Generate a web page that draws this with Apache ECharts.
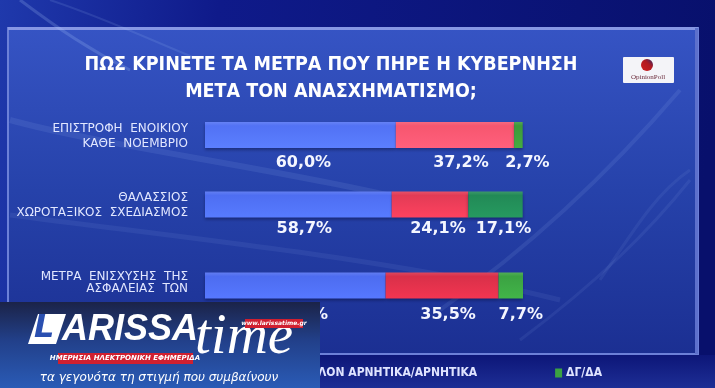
<!DOCTYPE html>
<html><head><meta charset="utf-8">
<script src="https://cdn.jsdelivr.net/npm/echarts@6/dist/echarts.min.js"></script>
<style>html,body{margin:0;padding:0;background:#0a127a}#c{width:715px;height:388px}</style>
</head><body><div id="c"></div>
<script>
// ---- data ----
const categories = [
  'ΕΠΙΣΤΡΟΦΗ  ΕΝΟΙΚΙΟΥ\nΚΑΘΕ  ΝΟΕΜΒΡΙΟ',
  'ΘΑΛΑΣΣΙΟΣ\nΧΩΡΟΤΑΞΙΚΟΣ  ΣΧΕΔΙΑΣΜΟΣ',
  'ΜΕΤΡΑ  ΕΝΙΣΧΥΣΗΣ  ΤΗΣ\nΑΣΦΑΛΕΙΑΣ  ΤΩΝ'
];
const seriesNames = ['ΘΕΤΙΚΑ/ΜΑΛΛΟΝ ΘΕΤΙΚΑ', 'ΜΑΛΛΟΝ ΑΡΝΗΤΙΚΑ/ΑΡΝΗΤΙΚΑ', 'ΔΓ/ΔΑ'];
const positive = [60.0, 58.7, 56.8];
const negative = [37.2, 24.1, 35.5];
const dkna = [2.7, 17.1, 7.7];
const titleLines = ['ΠΩΣ ΚΡΙΝΕΤΕ ΤΑ ΜΕΤΡΑ ΠΟΥ ΠΗΡΕ Η ΚΥΒΕΡΝΗΣΗ', 'ΜΕΤΑ ΤΟΝ ΑΝΑΣΧΗΜΑΤΙΣΜΟ;'];

// ---- layout / style ----
const chart = echarts.init(document.getElementById('c'));
const barCenters = [135, 204.5, 285.5];
const barH = 26;
const colors = [
  ['#5272f4', '#f7566f', '#3d9a3a'],
  ['#4e6ef2', '#e33b55', '#228a56'],
  ['#4d6cf0', '#d93049', '#3ba242']
];
const labelOffsets = [[3, 6, 9], [6, 8, 8], [5, 6, 10]];
const labelDist = [7, 3, 8];
// [top padding of first line, bottom padding of last line]
const catPad = [[5, 0], [3, 0], [0, 10]];
const valuesBySeries = [positive, negative, dkna];
const fmt = v => v.toFixed(1).replace('.', ',') + '%';

function grad(c) {
  return new echarts.graphic.LinearGradient(0, 0, 0, 1, [
    {offset: 0, color: echarts.color.lift(c, 0.12)},
    {offset: 0.15, color: c},
    {offset: 1, color: echarts.color.lift(c, -0.12)}
  ]);
}

const catStyle = {color: '#e2e7ff', fontSize: 12, fontFamily: 'DejaVu Sans', lineHeight: 17, align: 'right'};
const grids = [], xAxes = [], yAxes = [], series = [];
categories.forEach((cat, i) => {
  grids.push({left: 205, width: 318, top: barCenters[i] - barH / 2, height: barH});
  xAxes.push({type: 'value', gridIndex: i, min: 0, max: 100, show: false});
  yAxes.push({type: 'category', gridIndex: i, data: [cat],
    axisLine: {show: false}, axisTick: {show: false}, splitLine: {show: false},
    axisLabel: {margin: 17, align: 'right', ...catStyle,
      formatter: v => {
        const ls = v.split('\n');
        return ls.map((l, k) => '{' + (k === 0 ? 'f' : (k === ls.length - 1 ? 'l' : 'm')) + '|' + l + '}').join('\n');
      },
      rich: {
        f: {...catStyle, padding: [catPad[i][0], 0, 0, 0]},
        m: {...catStyle},
        l: {...catStyle, padding: [0, 0, catPad[i][1], 0]}
      }}});
  seriesNames.forEach((name, s) => {
    series.push({
      type: 'bar', name, stack: 'g' + i, xAxisIndex: i, yAxisIndex: i,
      barWidth: barH, data: [valuesBySeries[s][i]],
      itemStyle: {color: grad(colors[i][s]), shadowColor: 'rgba(0,0,30,0.35)', shadowBlur: 3, shadowOffsetY: 2},
      label: {show: true, position: 'bottom', distance: labelDist[i], offset: [labelOffsets[i][s], 0],
        color: '#f4f6ff', fontSize: 16, fontWeight: 'bold', fontFamily: 'DejaVu Sans',
        formatter: p => fmt(p.value)},
      emphasis: {disabled: true}
    });
  });
});

const legendColors = colors[2];

const streak = (pts, a, w) => ({type: 'bezierCurve', z: -5, silent: true,
  shape: {x1: pts[0], y1: pts[1], cpx1: pts[2], cpy1: pts[3], cpx2: pts[4], cpy2: pts[5], x2: pts[6], y2: pts[7]},
  style: {stroke: 'rgba(180,210,255,' + a + ')', lineWidth: w, fill: null}});

const option = {
  animation: false,
  backgroundColor: new echarts.graphic.LinearGradient(0, 0, 1, 0.3, [
    {offset: 0, color: '#1f39ac'}, {offset: 0.3, color: '#0f1a8a'}, {offset: 1, color: '#08106c'}
  ]),
  title: {
    text: titleLines.join('\n'), left: 326, top: 46, textAlign: 'center',
    textStyle: {color: '#ffffff', fontSize: 19.5, fontWeight: 'bold', fontFamily: 'DejaVu Sans Condensed', lineHeight: 27}
  },
  legend: {
    data: seriesNames.map((n, k) => ({name: n, itemStyle: {color: legendColors[k]}})),
    right: 108, top: 362, itemWidth: 7, itemHeight: 9, itemGap: 78, icon: 'rect',
    textStyle: {color: '#dfe4ff', fontSize: 12, fontWeight: 'bold', fontFamily: 'DejaVu Sans Condensed', padding: [0,0,0,-1]},
    selectedMode: false
  },
  grid: grids, xAxis: xAxes, yAxis: yAxes, series,
  graphic: [
    // background streaks top-left
    streak([20, 0, 60, 30, 90, 50, 130, 70], 0.2, 3),
    streak([50, 0, 110, 20, 150, 40, 200, 60], 0.12, 2),
    // panel
    {type: 'rect', z: -8, silent: true, shape: {x: 8, y: 28, width: 690, height: 326},
      style: {fill: new echarts.graphic.LinearGradient(0, 0, 0, 1, [
        {offset: 0, color: '#3654c4'}, {offset: 0.5, color: '#2642aa'}, {offset: 1, color: '#1b2f92'}]),
        stroke: '#6c80d8', lineWidth: 2}},
    {type: 'rect', z: -7, silent: true, shape: {x: 8, y: 27, width: 690, height: 3}, style: {fill: '#8797e4'}},
    {type: 'rect', z: -7, silent: true, shape: {x: 695, y: 28, width: 3, height: 326}, style: {fill: '#5d70cc'}},
    // panel streaks
    streak([10, 120, 120, 150, 300, 170, 470, 215], 0.10, 6),
    streak([10, 215, 200, 240, 400, 260, 560, 300], 0.08, 5),
    streak([440, 310, 540, 240, 620, 160, 680, 90], 0.10, 4),
    streak([520, 340, 600, 280, 650, 230, 690, 180], 0.08, 3),
    streak([600, 280, 640, 220, 660, 190, 690, 170], 0.07, 3),
    // bottom strip
    {type: 'rect', z: -8, silent: true, shape: {x: 0, y: 355, width: 715, height: 33},
      style: {fill: new echarts.graphic.LinearGradient(0, 0, 0, 1, [
        {offset: 0, color: '#0d1678'}, {offset: 1, color: '#1d2e95'}])}},
    // OpinionPoll logo
    {type: 'rect', z: 10, silent: true, shape: {x: 623, y: 57, width: 51, height: 26, r: 1}, style: {fill: '#f4f4f8'}},
    {type: 'circle', z: 11, silent: true, shape: {cx: 647, cy: 65, r: 6},
      style: {fill: new echarts.graphic.LinearGradient(1, 0, 0, 1, [
        {offset: 0, color: '#2a2a6a'}, {offset: 0.4, color: '#b01a22'}, {offset: 1, color: '#d02020'}])}},
    {type: 'text', z: 11, silent: true, style: {x: 648, y: 77, text: 'OpinionPoll', align: 'center', verticalAlign: 'middle',
      fill: '#6a2a3a', font: '7px "Liberation Serif"'}},
    // LarissaTime logo overlay
    {type: 'rect', z: 100, silent: true, shape: {x: 0, y: 302, width: 320, height: 86},
      style: {fill: new echarts.graphic.LinearGradient(0, 0, 0, 1, [
        {offset: 0, color: '#1b2348'}, {offset: 0.45, color: '#22408a'}, {offset: 1, color: '#2a5bb6'}])}},
    {type: 'polygon', z: 101, silent: true, shape: {points: [[38, 314], [66, 314], [56, 344], [28, 344]]}, style: {fill: '#ffffff'}},
    {type: 'text', z: 102, silent: true, style: {x: 34, y: 329, text: 'L', verticalAlign: 'middle',
      fill: '#2a4fb0', font: 'italic bold 32px "DejaVu Sans"'}},
    {type: 'text', z: 101, silent: true, style: {x: 62, y: 330, text: 'ARISSA', verticalAlign: 'middle',
      fill: '#ffffff', font: 'italic bold 36px "Liberation Sans"'}},
    {type: 'text', z: 101, silent: true, style: {x: 195, y: 338, text: 'time', verticalAlign: 'middle',
      fill: '#ffffff', font: 'italic 57px "Liberation Serif"'}},
    {type: 'rect', z: 101, silent: true, shape: {x: 245, y: 319, width: 58, height: 9}, style: {fill: '#d02030'}},
    {type: 'text', z: 102, silent: true, style: {x: 274, y: 323.5, text: 'www.larissatime.gr', align: 'center', verticalAlign: 'middle',
      fill: '#ffffff', font: 'italic bold 6px "DejaVu Sans"'}},
    {type: 'rect', z: 101, silent: true, shape: {x: 58, y: 353, width: 135, height: 11}, style: {fill: '#d02030'}},
    {type: 'text', z: 102, silent: true, style: {x: 125, y: 358.5, text: 'ΗΜΕΡΗΣΙΑ ΗΛΕΚΤΡΟΝΙΚΗ ΕΦΗΜΕΡΙΔΑ', align: 'center', verticalAlign: 'middle',
      fill: '#ffffff', font: 'italic bold 7px "DejaVu Sans"'}},
    {type: 'text', z: 101, silent: true, style: {x: 159, y: 378, text: 'τα γεγονότα τη στιγμή που συμβαίνουν', align: 'center', verticalAlign: 'middle',
      fill: '#ffffff', font: 'italic 12px "DejaVu Sans"'}}
  ]
};
chart.setOption(option);
</script></body></html>
